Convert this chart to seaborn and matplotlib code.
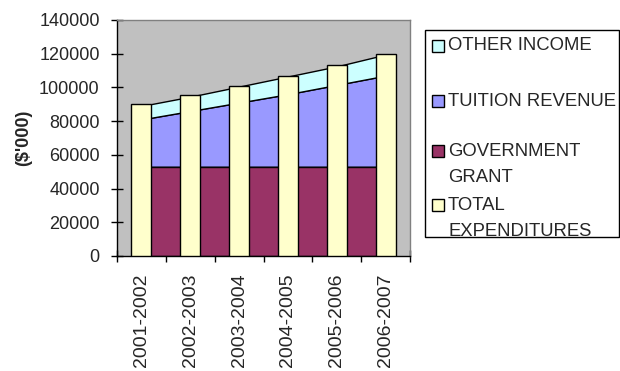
import matplotlib
matplotlib.use("Agg")
import matplotlib.pyplot as plt
from matplotlib.patches import Rectangle
import seaborn as sns
import pandas as pd

categories = ["2001-2002", "2002-2003", "2003-2004", "2004-2005", "2005-2006", "2006-2007"]
government_grant = [53000, 53000, 53000, 53000, 53000, 53000]
tuition_revenue = [28000, 33000, 38000, 43000, 48500, 54000]
other_income = [8000, 8500, 9500, 10500, 11000, 12500]
total_expenditures = [90000, 95500, 101000, 107000, 113500, 120000]

series_names = ["OTHER INCOME", "TUITION REVENUE", "GOVERNMENT\nGRANT", "TOTAL\nEXPENDITURES"]
series_colors = ["#ccffff", "#9999ff", "#993366", "#ffffcc"]
y_ticks = [0, 20000, 40000, 60000, 80000, 100000, 120000, 140000]

sns.set_theme(style="white")
plt.rcParams["font.family"] = ["Liberation Sans", "DejaVu Sans"]

W, H = 620, 371
fig = plt.figure(figsize=(W / 100, H / 100), dpi=100)
ax = fig.add_axes([117 / W, 1 - 256 / H, (410 - 117) / W, (256 - 20) / H])
ax.set_facecolor("#c0c0c0")

df = pd.DataFrame({"year": categories, "expend": total_expenditures})
sns.barplot(data=df, x="year", y="expend", order=categories, color=series_colors[3],
            saturation=1, edgecolor="black", linewidth=1.0, width=0.41, ax=ax, zorder=3)

xs = list(range(len(categories)))
ax.stackplot(xs, government_grant, tuition_revenue, other_income,
             colors=[series_colors[2], series_colors[1], series_colors[0]],
             edgecolor="black", linewidth=1.0, zorder=2)

ax.set_xlim(-0.5, len(categories) - 0.5)
ax.set_ylim(0, 140000)
ax.set_yticks(y_ticks)
ax.set_yticklabels([str(v) for v in y_ticks], fontsize=13)
ax.set_xticks(xs)
ax.set_xticklabels(categories, rotation=90, fontsize=14)
ax.set_xticks([i - 0.5 for i in range(len(categories) + 1)], minor=True)
ax.tick_params(axis="x", which="major", length=0, pad=12.5)
ax.tick_params(axis="x", which="minor", length=9, width=1, color="black",
               direction="inout", bottom=True)
ax.tick_params(axis="y", length=9, width=1, color="black", direction="inout",
               left=True, pad=8)
ax.set_xlabel("")
ax.set_ylabel("($'000)", fontsize=13, fontweight="bold", labelpad=5)
ax.grid(False)

for side in ("left", "bottom"):
    ax.spines[side].set_color("black")
    ax.spines[side].set_linewidth(1)
for side in ("top", "right"):
    ax.spines[side].set_color("#808080")
    ax.spines[side].set_linewidth(1)

# legend box drawn in figure pixels
def fx(px):
    return px / W

def fy(py):
    return 1 - py / H

fig.add_artist(Rectangle((fx(425), fy(237)), fx(619) - fx(425), fy(30) - fy(237),
                         transform=fig.transFigure, facecolor="white",
                         edgecolor="black", linewidth=1))
entry_rows = [46, 101, 151, 205]
for name, color, row in zip(series_names, series_colors, entry_rows):
    fig.add_artist(Rectangle((fx(432), fy(row + 6)), fx(12), 12 / H,
                             transform=fig.transFigure, facecolor=color,
                             edgecolor="black", linewidth=1))
    for k, line in enumerate(name.split("\n")):
        fig.text(fx(448), fy(row + 26 * k), line, fontsize=13.3, va="center", ha="left")

fig.savefig("out.png", dpi=100)
